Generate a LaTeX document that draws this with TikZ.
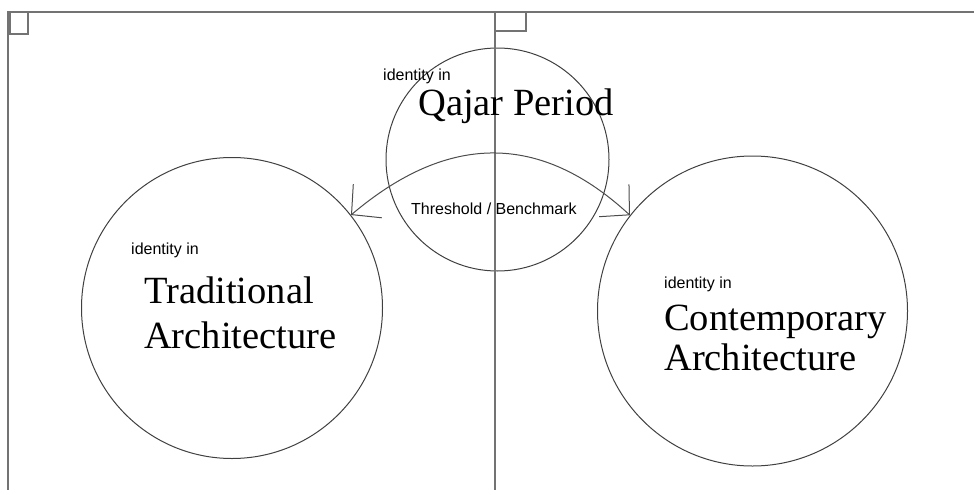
\documentclass[tikz,border=0pt]{standalone}
\usepackage{fontspec}
\setmainfont{Liberation Serif}
\setsansfont{Liberation Sans}
\usetikzlibrary{arrows.meta}
\begin{document}
\begin{tikzpicture}[x=1pt,y=-1pt,
  frame/.style={draw=black!55,line width=1.1pt},
  ring/.style={circle,draw=black!75,line width=1pt,inner sep=0pt},
  small/.style={font=\sffamily\fontsize{16}{19}\selectfont,inner sep=0pt,anchor=base west},
  bigA/.style={font=\rmfamily\fontsize{38.5}{45}\selectfont,inner sep=0pt,anchor=base west,align=left},
  bigB/.style={font=\rmfamily\fontsize{38.5}{40}\selectfont,inner sep=0pt,anchor=base west,align=left},
  barb/.tip={Straight Barb[length=21pt,width=44pt]},
  link/.style={draw=black!70,line width=1pt,barb-barb}]
\useasboundingbox (0,0) rectangle (974,490);
% circles
\node[ring,minimum size=223pt] (qajar) at (497.5,159.5) {};
\node[ring,minimum size=301pt] (trad) at (232,308) {};
\node[ring,minimum size=310pt] (cont) at (752.5,311) {};
% frame
\coordinate (tl) at (8,12);
\coordinate (tr) at (974,12);
\coordinate (bl) at (8,490);
\coordinate (ct) at (495,12);
\coordinate (cb) at (495,490);
\draw[frame] (tr) -- (tl) -- (bl);
\draw[frame] (ct) -- (cb);
\draw[frame] (10,12) rectangle (28,34);
\draw[frame] (495,12) rectangle (526,31);
% arrow
\draw[link] (trad.38) .. controls (449.7,131.3) and (541.7,133.7) .. (cont.142.5);
% texts
\node[small] (qid) at (383,80) {identity in};
\node[bigA] (qname) at (418,115) {Qajar Period};
\node[small] (tid) at (131,254) {identity in};
\node[bigA] (tname) at (144,348) {Traditional\\Architecture};
\node[small] (cid) at (664,288) {identity in};
\node[bigB] (cname) at (664,370) {Contemporary\\Architecture};
\node[small] (thr) at (411,214) {Threshold / Benchmark};
\end{tikzpicture}
\end{document}
